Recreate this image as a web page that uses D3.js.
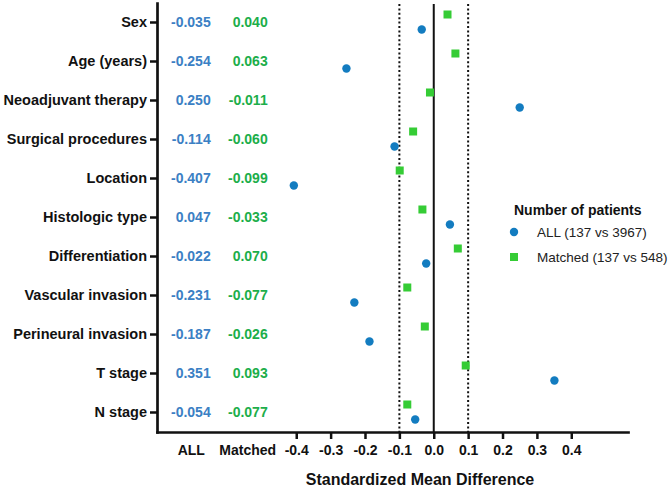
<!DOCTYPE html>
<html>
<head>
<meta charset="utf-8">
<script src="https://cdn.jsdelivr.net/npm/d3@7"></script>
<style>
  body { margin: 0; background: #fff; }
  svg { font-family: "Liberation Sans", Arial, sans-serif; }
</style>
</head>
<body>
<script>
// Data
const categories = ["Sex", "Age (years)", "Neoadjuvant therapy", "Surgical procedures", "Location",
  "Histologic type", "Differentiation", "Vascular invasion", "Perineural invasion", "T stage", "N stage"];
const allValues = [-0.035, -0.254, 0.250, -0.114, -0.407, 0.047, -0.022, -0.231, -0.187, 0.351, -0.054];
const matchedValues = [0.040, 0.063, -0.011, -0.060, -0.099, -0.033, 0.070, -0.077, -0.026, 0.093, -0.077];
const xTicks = [-0.4, -0.3, -0.2, -0.1, 0.0, 0.1, 0.2, 0.3, 0.4];
const refLines = [-0.1, 0.1];
const seriesNames = ["ALL (137 vs 3967)", "Matched (137 vs 548)"];

const w = 669;
const h = 490;
const blue = "#137cc0";
const green = "#35cc35";
const blueText = "#3b80c4";
const greenText = "#1cae4a";

const svg = d3.select("body").append("svg")
  .attr("width", w)
  .attr("height", h);

// Scales
const xScale = d3.scaleLinear().domain([-0.805, 0.565]).range([157, 628]);
const yScale = d3.scaleBand().domain(categories).range([3, 432]);
const yMid = d => yScale(d) + yScale.bandwidth() / 2;
const fmt = (v, n) => v.toFixed(n);

// Reference lines
svg.selectAll(".dotted")
  .data(refLines)
  .enter()
  .append("line")
  .attr("x1", d => xScale(d)).attr("x2", d => xScale(d))
  .attr("y1", 4).attr("y2", 432)
  .attr("stroke", "#111")
  .attr("stroke-width", 2)
  .attr("stroke-dasharray", "2,2.4");

svg.append("line")
  .attr("x1", xScale(0)).attr("x2", xScale(0))
  .attr("y1", 4).attr("y2", 432)
  .attr("stroke", "#111")
  .attr("stroke-width", 2);

// Axes
const yAxis = d3.axisLeft(yScale).tickSize(7).tickSizeOuter(0).tickPadding(3);
const gy = svg.append("g")
  .attr("transform", "translate(157,0)")
  .call(yAxis);
gy.selectAll("text")
  .attr("font-size", "14.5px")
  .attr("font-weight", "bold")
  .attr("fill", "#111");

const xAxis = d3.axisBottom(xScale).tickValues(xTicks).tickSize(7).tickSizeOuter(0)
  .tickPadding(6).tickFormat(d => fmt(d, 1));
const gx = svg.append("g")
  .attr("transform", "translate(0,432)")
  .call(xAxis);
gx.selectAll("text")
  .attr("font-size", "14px")
  .attr("font-weight", "bold")
  .attr("fill", "#111");

svg.selectAll(".domain").attr("stroke", "#111").attr("stroke-width", 2.7).attr("stroke-linecap", "square");
svg.selectAll(".tick line").attr("stroke", "#111").attr("stroke-width", 2.5);

// Value columns
svg.selectAll(".allval")
  .data(categories)
  .enter()
  .append("text")
  .attr("x", 210.7)
  .attr("y", d => yMid(d))
  .attr("dy", "0.35em")
  .attr("text-anchor", "end")
  .attr("font-size", "14px")
  .attr("font-weight", "bold")
  .attr("fill", blueText)
  .text((d, i) => fmt(allValues[i], 3));

svg.selectAll(".matchval")
  .data(categories)
  .enter()
  .append("text")
  .attr("x", 267.7)
  .attr("y", d => yMid(d))
  .attr("dy", "0.35em")
  .attr("text-anchor", "end")
  .attr("font-size", "14px")
  .attr("font-weight", "bold")
  .attr("fill", greenText)
  .text((d, i) => fmt(matchedValues[i], 3));

svg.selectAll(".collabel")
  .data([["ALL", 191.3], ["Matched", 247.7]])
  .enter()
  .append("text")
  .attr("x", d => d[1])
  .attr("y", 455)
  .attr("text-anchor", "middle")
  .attr("font-size", "14px")
  .attr("font-weight", "bold")
  .attr("fill", "#111")
  .text(d => d[0]);

// Axis title
svg.append("text")
  .attr("x", 420)
  .attr("y", 485)
  .attr("text-anchor", "middle")
  .attr("font-size", "16px")
  .attr("font-weight", "bold")
  .attr("fill", "#111")
  .text("Standardized Mean Difference");

// Marks
svg.selectAll(".sq")
  .data(categories)
  .enter()
  .append("rect")
  .attr("x", (d, i) => xScale(matchedValues[i]) - 4)
  .attr("y", d => yMid(d) - 8 - 4)
  .attr("width", 8)
  .attr("height", 8)
  .attr("fill", green);

svg.selectAll(".dot")
  .data(categories)
  .enter()
  .append("circle")
  .attr("cx", (d, i) => xScale(allValues[i]))
  .attr("cy", d => yMid(d) + 7)
  .attr("r", 4.2)
  .attr("fill", blue);

// Legend
const lg = svg.append("g").attr("transform", "translate(514,0)");
lg.append("text")
  .attr("x", 0).attr("y", 210).attr("dy", "0.35em")
  .attr("font-size", "14px").attr("font-weight", "bold").attr("fill", "#111")
  .text("Number of patients");
lg.append("circle").attr("cx", 0).attr("cy", 232).attr("r", 4.2).attr("fill", blue);
lg.append("rect").attr("x", -4).attr("y", 257 - 4).attr("width", 8).attr("height", 8).attr("fill", green);
lg.selectAll(".lgtext")
  .data(seriesNames)
  .enter()
  .append("text")
  .attr("x", 23)
  .attr("y", (d, i) => 232 + i * 25)
  .attr("dy", "0.35em")
  .attr("font-size", "13.5px")
  .attr("fill", "#222")
  .text(d => d);
</script>
</body>
</html>
